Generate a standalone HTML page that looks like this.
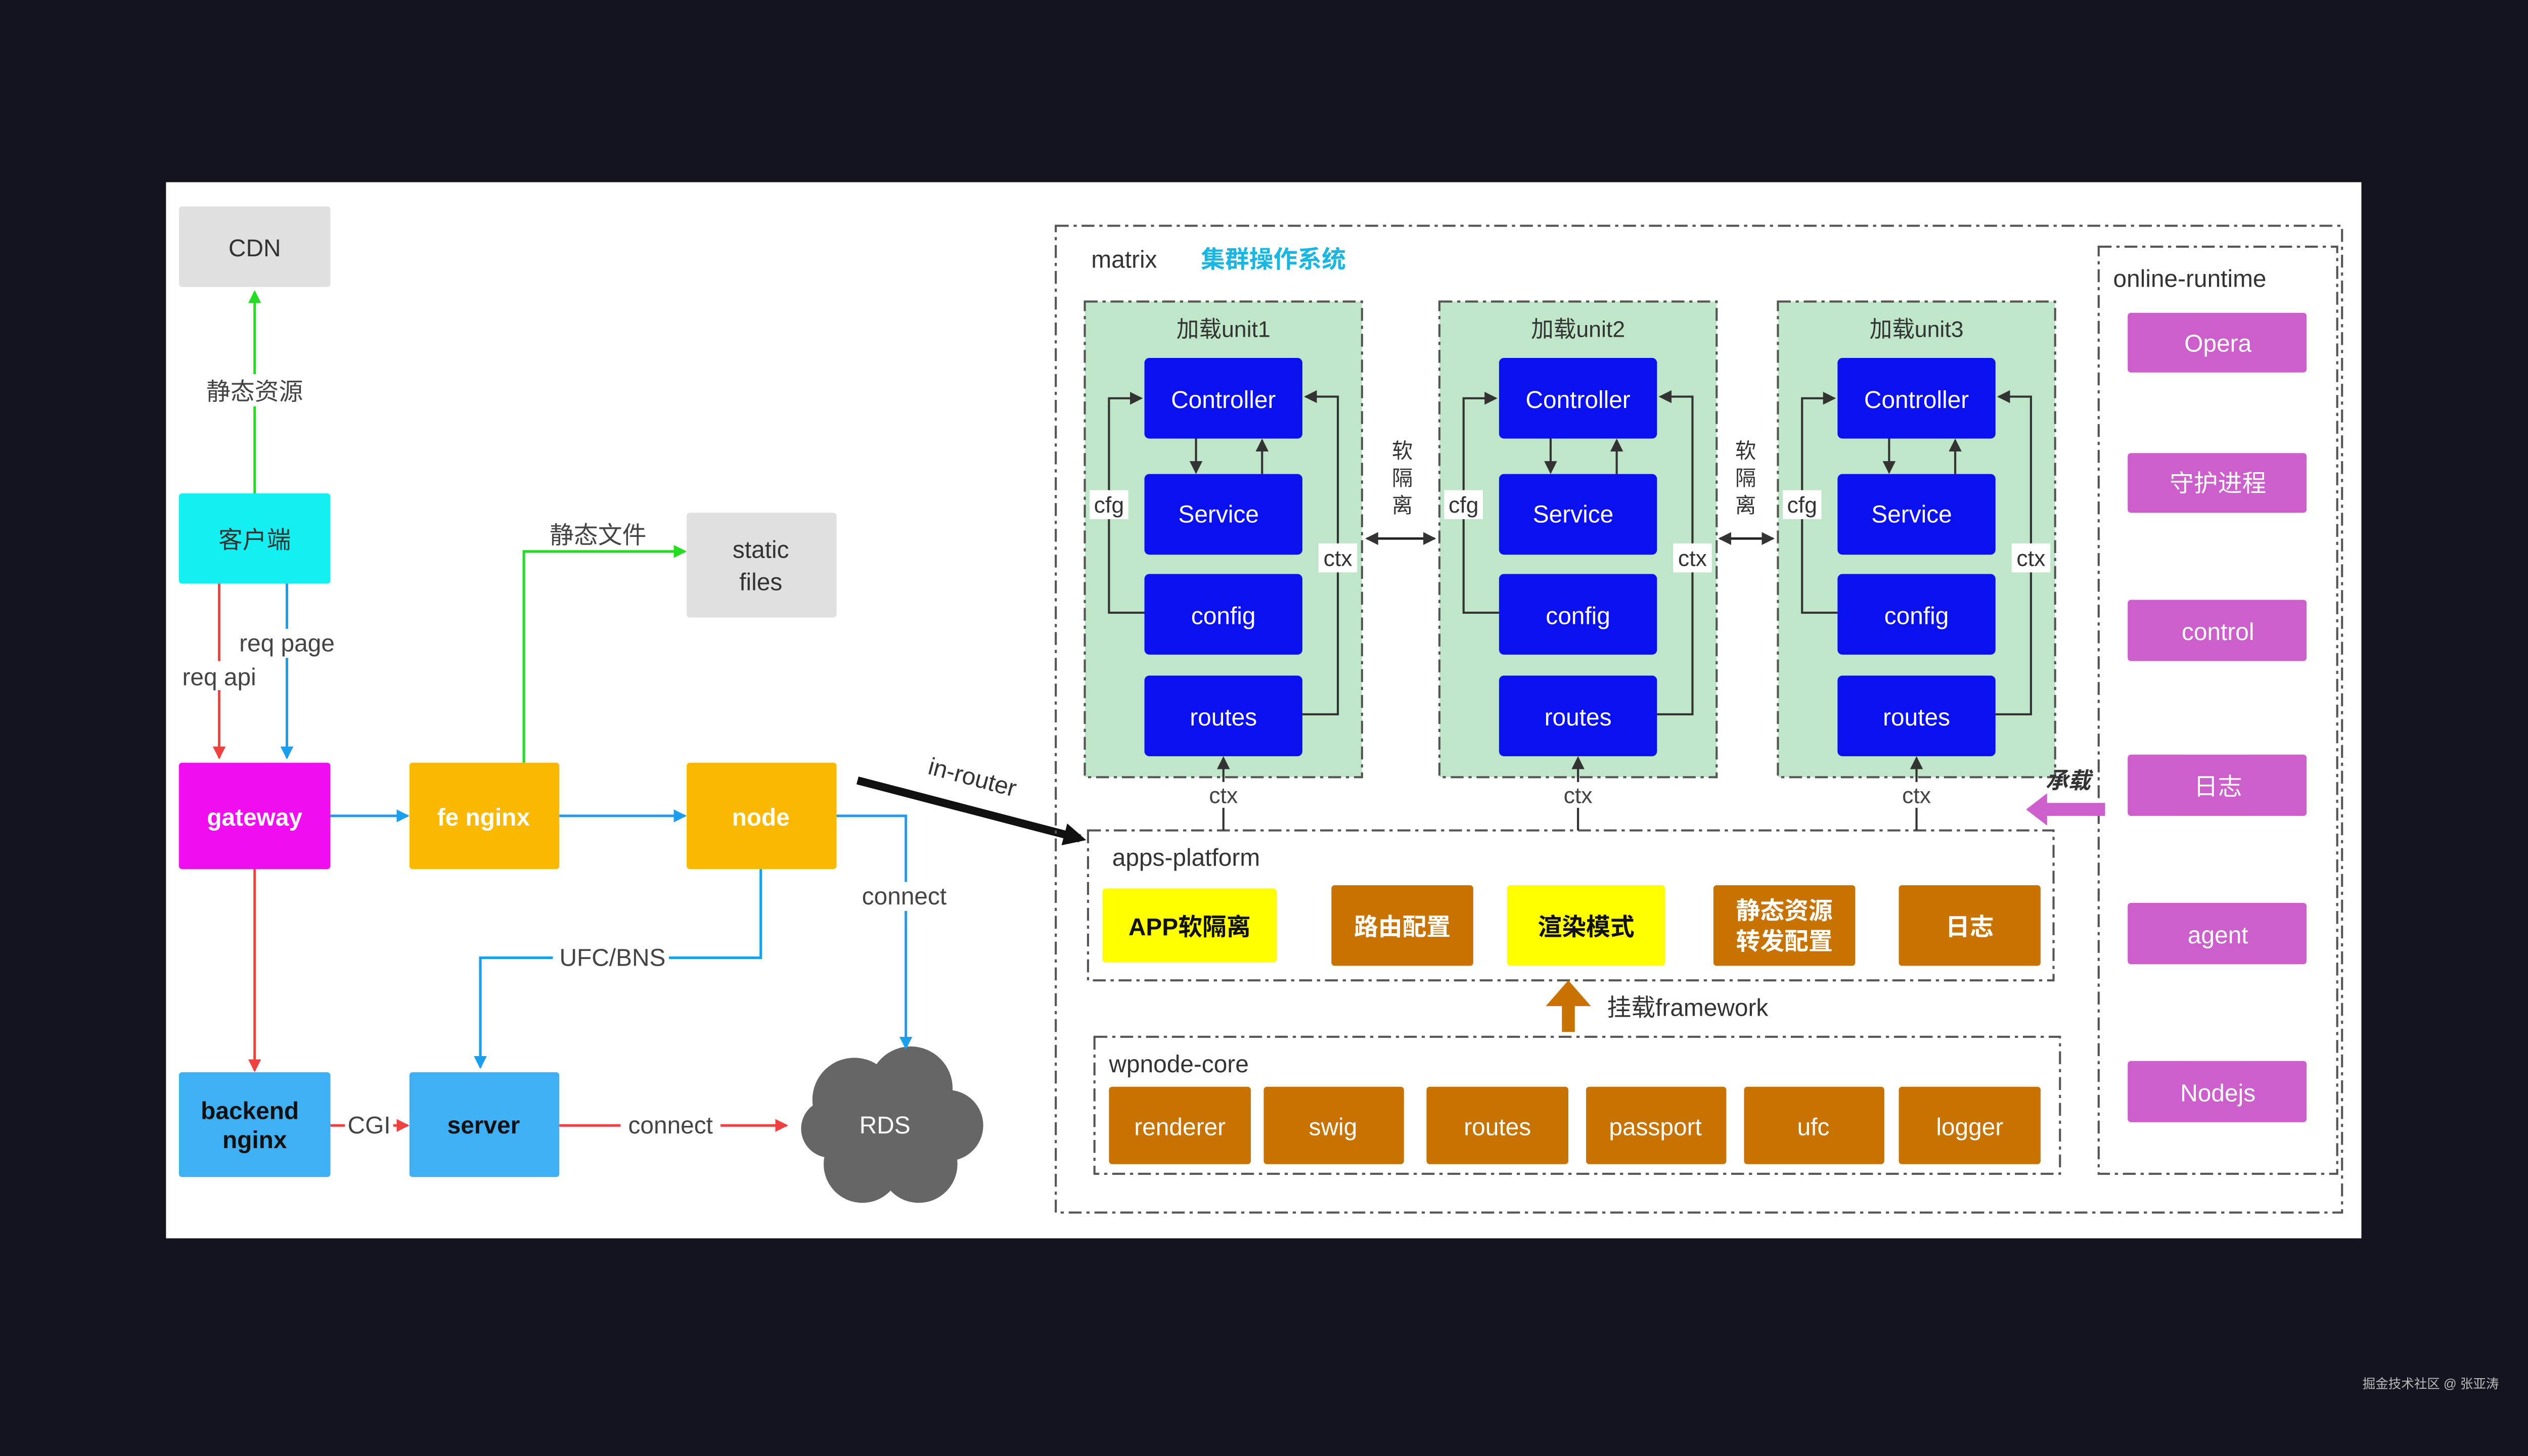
<!DOCTYPE html>
<html><head><meta charset="utf-8"><style>
html,body{margin:0;padding:0;background:#13141f;overflow:hidden;}
svg{display:block;}
text{font-family:"Liberation Sans","Noto Sans CJK SC",sans-serif;}
</style></head><body>
<svg width="5120" height="2880" viewBox="0 0 1606 903" preserveAspectRatio="none" xmlns="http://www.w3.org/2000/svg">
<defs>
<marker id="ag" markerWidth="8" markerHeight="8" refX="7" refY="4" orient="auto" markerUnits="userSpaceOnUse"><path d="M0,0 L8,4 L0,8 z" fill="#22dd22"/></marker>
<marker id="ar" markerWidth="8" markerHeight="8" refX="7" refY="4" orient="auto" markerUnits="userSpaceOnUse"><path d="M0,0 L8,4 L0,8 z" fill="#f04040"/></marker>
<marker id="ab" markerWidth="8" markerHeight="8" refX="7" refY="4" orient="auto" markerUnits="userSpaceOnUse"><path d="M0,0 L8,4 L0,8 z" fill="#1a9ff0"/></marker>
<marker id="ak" markerWidth="8" markerHeight="8" refX="7" refY="4" orient="auto" markerUnits="userSpaceOnUse"><path d="M0,0 L8,4 L0,8 z" fill="#333"/></marker>
<marker id="aks" markerWidth="8" markerHeight="8" refX="1" refY="4" orient="auto" markerUnits="userSpaceOnUse"><path d="M8,0 L0,4 L8,8 z" fill="#333"/></marker>
<marker id="abig" markerWidth="14" markerHeight="14" refX="10" refY="7" orient="auto" markerUnits="userSpaceOnUse"><path d="M0,0 L14,7 L0,14 z" fill="#111"/></marker>
</defs>
<rect x="0" y="0" width="1606" height="903" fill="#13141f"/>
<rect x="103" y="113" width="1362" height="655" fill="#fff"/>

<g font-size="15" text-anchor="middle">
<rect x="111" y="128" width="94" height="50" rx="2" fill="#e0e0e0"/><text x="158" y="159" fill="#333">CDN</text>
<rect x="111" y="306" width="94" height="56" rx="2" fill="#14f0f2"/><text x="158" y="340" fill="#333">客户端</text>
<rect x="111" y="473" width="94" height="66" rx="2" fill="#f00ef0"/><text x="158" y="512" fill="#fff" font-weight="bold">gateway</text>
<rect x="254" y="473" width="93" height="66" rx="2" fill="#fbb800"/><text x="300" y="512" fill="#fff" font-weight="bold">fe nginx</text>
<rect x="426" y="473" width="93" height="66" rx="2" fill="#fbb800"/><text x="472" y="512" fill="#fff" font-weight="bold">node</text>
<rect x="426" y="318" width="93" height="65" rx="2" fill="#e0e0e0"/><text x="472" y="346" fill="#333">static</text><text x="472" y="366" fill="#333">files</text>
<rect x="111" y="665" width="94" height="65" rx="2" fill="#40b0f5"/><text x="155" y="694" fill="#111" font-weight="bold">backend</text><text x="158" y="712" fill="#111" font-weight="bold">nginx</text>
<rect x="254" y="665" width="93" height="65" rx="2" fill="#40b0f5"/><text x="300" y="703" fill="#111" font-weight="bold">server</text>
</g>
<g fill="#666">
<circle cx="530" cy="682" r="26"/><circle cx="565" cy="675" r="26"/><circle cx="588" cy="698" r="22"/><circle cx="570" cy="722" r="24"/><circle cx="535" cy="722" r="24"/><circle cx="515" cy="700" r="18"/><ellipse cx="552" cy="700" rx="40" ry="30"/>
</g>
<text x="549" y="703" font-size="15" fill="#fff" text-anchor="middle">RDS</text>

<g fill="none" stroke-width="1.6">
<line x1="158" y1="306" x2="158" y2="181" stroke="#22dd22" marker-end="url(#ag)"/>
<line x1="136" y1="362" x2="136" y2="470" stroke="#f04040" marker-end="url(#ar)"/>
<line x1="178" y1="362" x2="178" y2="470" stroke="#1a9ff0" marker-end="url(#ab)"/>
<line x1="205" y1="506" x2="253" y2="506" stroke="#1a9ff0" marker-end="url(#ab)"/>
<line x1="347" y1="506" x2="425" y2="506" stroke="#1a9ff0" marker-end="url(#ab)"/>
<polyline points="325,473 325,342 425,342" stroke="#22dd22" marker-end="url(#ag)"/>
<line x1="158" y1="539" x2="158" y2="664" stroke="#f04040" marker-end="url(#ar)"/>
<polyline points="519,506 562,506 562,650" stroke="#1a9ff0" marker-end="url(#ab)"/>
<polyline points="472,539 472,594 298,594 298,662" stroke="#1a9ff0" marker-end="url(#ab)"/>
<line x1="205" y1="698" x2="253" y2="698" stroke="#f04040" marker-end="url(#ar)"/>
<line x1="347" y1="698" x2="488" y2="698" stroke="#f04040" marker-end="url(#ar)"/>
</g>
<g font-size="15" fill="#444" text-anchor="middle">
<rect x="124" y="232" width="68" height="20" fill="#fff"/><text x="158" y="248">静态资源</text>
<rect x="146" y="390" width="64" height="18" fill="#fff"/><text x="178" y="404">req page</text>
<rect x="108" y="410" width="56" height="18" fill="#fff"/><text x="136" y="425">req api</text>
<text x="371" y="337">静态文件</text>
<rect x="532" y="547" width="58" height="18" fill="#fff"/><text x="561" y="561">connect</text>
<rect x="343" y="585" width="72" height="18" fill="#fff"/><text x="380" y="599">UFC/BNS</text>
<rect x="214" y="689" width="30" height="18" fill="#fff"/><text x="229" y="703">CGI</text>
<rect x="385" y="689" width="62" height="18" fill="#fff"/><text x="416" y="703">connect</text>
</g>
<line x1="532" y1="484" x2="670" y2="520" stroke="#111" stroke-width="5" marker-end="url(#abig)"/>
<text x="602" y="487" font-size="15" fill="#333" text-anchor="middle" transform="rotate(15 602 487)">in-router</text>

<g fill="none" stroke="#555" stroke-width="1.3" stroke-dasharray="8,3,2,3">
<rect x="655" y="140" width="798" height="612"/>
<rect x="1302" y="153" width="148" height="575"/>
<rect x="675" y="515" width="599" height="93"/>
<rect x="679" y="643" width="599" height="85"/>
</g>
<text x="677" y="166" font-size="15" fill="#333">matrix</text>
<text x="745" y="166" font-size="15" fill="#18b6e0" font-weight="bold">集群操作系统</text>

<g id="u">
<rect x="673" y="187" width="172" height="295" fill="#bfe6c8" stroke="#555" stroke-width="1.3" stroke-dasharray="8,3,2,3"/>
<g fill="#0a10ee"><rect x="710" y="222" width="98" height="50" rx="3"/><rect x="710" y="294" width="98" height="50" rx="3"/><rect x="710" y="356" width="98" height="50" rx="3"/><rect x="710" y="419" width="98" height="50" rx="3"/></g>
<g font-size="15" fill="#fff" text-anchor="middle"><text x="759" y="253">Controller</text><text x="756" y="324">Service</text><text x="759" y="387">config</text><text x="759" y="450">routes</text></g>
<g fill="none" stroke="#333" stroke-width="1.3">
<polyline points="710,380 688,380 688,247 708,247" marker-end="url(#ak)"/>
<polyline points="808,443 830,443 830,246 810,246" marker-end="url(#ak)"/>
<line x1="742" y1="272" x2="742" y2="293" marker-end="url(#ak)"/>
<line x1="783" y1="294" x2="783" y2="273" marker-end="url(#ak)"/>
<line x1="759" y1="515" x2="759" y2="470" marker-end="url(#ak)"/>
</g>
<rect x="676" y="304" width="24" height="18" fill="#fff"/><text x="688" y="318" font-size="14" fill="#333" text-anchor="middle">cfg</text>
<rect x="818" y="337" width="24" height="18" fill="#fff"/><text x="830" y="351" font-size="14" fill="#333" text-anchor="middle">ctx</text>
<rect x="745" y="485" width="28" height="16" fill="#fff"/><text x="759" y="498" font-size="14" fill="#444" text-anchor="middle">ctx</text>
</g>
<use href="#u" transform="translate(220,0)"/>
<use href="#u" transform="translate(430,0)"/>
<g font-size="14" fill="#333" text-anchor="middle">
<text x="759" y="209">加载unit1</text><text x="979" y="209">加载unit2</text><text x="1189" y="209">加载unit3</text>
</g>
<g stroke="#222" stroke-width="1.5">
<line x1="848" y1="334" x2="890" y2="334" marker-end="url(#ak)" marker-start="url(#aks)"/>
<line x1="1067" y1="334" x2="1100" y2="334" marker-end="url(#ak)" marker-start="url(#aks)"/>
</g>
<g font-size="13" fill="#333" text-anchor="middle">
<text x="870" y="284">软</text><text x="870" y="301">隔</text><text x="870" y="318">离</text>
<text x="1083" y="284">软</text><text x="1083" y="301">隔</text><text x="1083" y="318">离</text>
</g>

<text x="690" y="537" font-size="15" fill="#333">apps-platform</text>
<rect x="684" y="551" width="108" height="46" rx="2" fill="#ffff00"/>
<rect x="826" y="549" width="88" height="50" rx="2" fill="#c87202"/>
<rect x="935" y="549" width="98" height="50" rx="2" fill="#ffff00"/>
<rect x="1063" y="549" width="88" height="50" rx="2" fill="#c87202"/>
<rect x="1178" y="549" width="88" height="50" rx="2" fill="#c87202"/>
<g font-size="15" text-anchor="middle" font-weight="bold">
<text x="738" y="580" fill="#111">APP软隔离</text>
<text x="870" y="580" fill="#fff">路由配置</text>
<text x="984" y="580" fill="#111">渲染模式</text>
<text x="1107" y="570" fill="#fff">静态资源</text><text x="1107" y="589" fill="#fff">转发配置</text>
<text x="1222" y="580" fill="#fff">日志</text>
</g>
<path d="M969,640 L969,624 L959,624 L973,608 L987,624 L977,624 L977,640 z" fill="#c87202"/>
<text x="997" y="630" font-size="15" fill="#333">挂载framework</text>

<text x="688" y="665" font-size="15" fill="#333">wpnode-core</text>
<g fill="#c87202">
<rect x="688" y="674" width="88" height="48" rx="2"/><rect x="784" y="674" width="87" height="48" rx="2"/><rect x="885" y="674" width="88" height="48" rx="2"/><rect x="984" y="674" width="87" height="48" rx="2"/><rect x="1082" y="674" width="87" height="48" rx="2"/><rect x="1178" y="674" width="88" height="48" rx="2"/>
</g>
<g font-size="15" fill="#fff" text-anchor="middle">
<text x="732" y="704">renderer</text><text x="827" y="704">swig</text><text x="929" y="704">routes</text><text x="1027" y="704">passport</text><text x="1125" y="704">ufc</text><text x="1222" y="704">logger</text>
</g>

<text x="1311" y="178" font-size="15" fill="#333">online-runtime</text>
<g fill="#cc5fcc">
<rect x="1320" y="194" width="111" height="37" rx="2"/><rect x="1320" y="281" width="111" height="37" rx="2"/><rect x="1320" y="372" width="111" height="38" rx="2"/><rect x="1320" y="468" width="111" height="38" rx="2"/><rect x="1320" y="560" width="111" height="38" rx="2"/><rect x="1320" y="658" width="111" height="38" rx="2"/>
</g>
<g font-size="15" fill="#fff" text-anchor="middle">
<text x="1376" y="218">Opera</text><text x="1376" y="305">守护进程</text><text x="1376" y="397">control</text><text x="1376" y="493">日志</text><text x="1376" y="585">agent</text><text x="1376" y="683">Nodejs</text>
</g>
<path d="M1306,498 L1270,498 L1270,492 L1257,502 L1270,512 L1270,506 L1306,506 z" fill="#cc5fcc"/>
<text x="1283" y="489" font-size="14" fill="#333" text-anchor="middle" font-style="italic" font-weight="bold">承载</text>

<text x="1508" y="861" font-size="8" fill="#bbb" text-anchor="middle">掘金技术社区 @ 张亚涛</text>
</svg>
</body></html>
